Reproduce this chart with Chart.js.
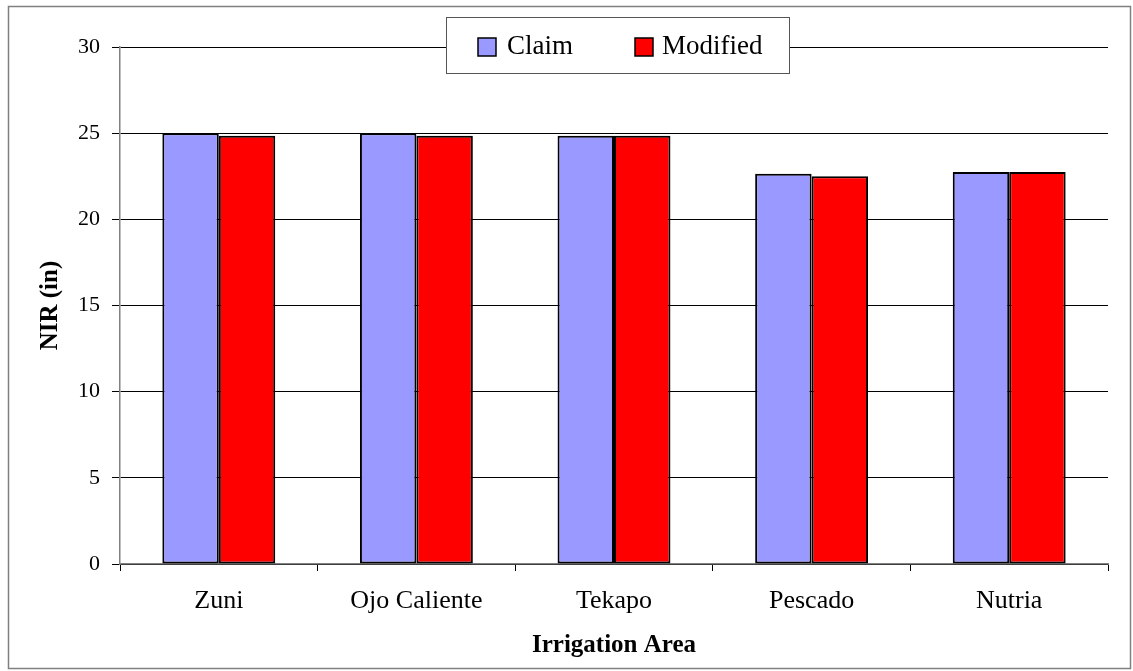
<!DOCTYPE html>
<html>
<head>
<meta charset="utf-8">
<script src="https://cdn.jsdelivr.net/npm/chart.js@4/dist/chart.umd.min.js"></script>
<style>
  html, body { margin: 0; padding: 0; background: #fff; }
  #wrap { width: 1133px; height: 671px; }
</style>
</head>
<body>
<div id="wrap"><canvas id="nir-chart"></canvas></div>
<script>
const areas = ['Zuni', 'Ojo Caliente', 'Tekapo', 'Pescado', 'Nutria'];
const claimNIR = [25.0, 25.0, 24.85, 22.65, 22.75];
const modifiedNIR = [24.85, 24.85, 24.85, 22.5, 22.75];
const yTicks = [0, 5, 10, 15, 20, 25, 30];

const SERIF = '"Times New Roman", "Liberation Serif", serif';

// frame around the whole chart + boxed legend sitting over the top gridline
const framePlugin = {
  id: 'frame',
  afterDraw(chart) {
    const ctx = chart.ctx;
    ctx.save();
    ctx.strokeStyle = '#808080';
    ctx.lineWidth = 1.5;
    ctx.strokeRect(8.5, 6.5, 1122, 662);

    const box = { x: 446, y: 17, w: 343, h: 56 };
    ctx.fillStyle = '#fff';
    ctx.fillRect(box.x, box.y, box.w, box.h);
    ctx.strokeStyle = '#555';
    ctx.lineWidth = 1;
    ctx.strokeRect(box.x + 0.5, box.y + 0.5, box.w, box.h);

    const items = [
      { x: 478, textX: 507 },
      { x: 635, textX: 662 }
    ];
    ctx.font = '27px ' + SERIF;
    ctx.textBaseline = 'middle';
    ctx.textAlign = 'left';
    chart.data.datasets.forEach((ds, i) => {
      const it = items[i];
      ctx.fillStyle = ds.backgroundColor;
      ctx.fillRect(it.x, 38, 18, 18);
      ctx.strokeStyle = '#000';
      ctx.lineWidth = 1.5;
      ctx.strokeRect(it.x, 38, 18, 18);
      ctx.fillStyle = '#000';
      ctx.fillText(ds.label, it.textX, 47);
    });
    ctx.restore();
  }
};

new Chart(document.getElementById('nir-chart'), {
  type: 'bar',
  data: {
    labels: areas,
    datasets: [
      {
        label: 'Claim',
        data: claimNIR,
        backgroundColor: '#9999FF',
        borderColor: '#000',
        borderWidth: 2,
        borderSkipped: false
      },
      {
        label: 'Modified',
        data: modifiedNIR,
        backgroundColor: '#FF0000',
        borderColor: '#000',
        borderWidth: 2,
        borderSkipped: false
      }
    ]
  },
  options: {
    responsive: true,
    maintainAspectRatio: false,
    animation: false,
    layout: {
      padding: { left: 0, top: 47, right: 25, bottom: 0 }
    },
    datasets: {
      bar: {
        categoryPercentage: 1 / 1.75,
        barPercentage: 1.0
      }
    },
    plugins: {
      legend: { display: false },
      tooltip: { enabled: false }
    },
    scales: {
      x: {
        afterFit(scale) { scale.height = 107; },
        grid: {
          display: true,
          drawOnChartArea: false,
          offset: true,
          tickLength: 7,
          color: '#000',
          lineWidth: 1
        },
        border: { color: '#808080', width: 1.5 },
        ticks: {
          color: '#000',
          padding: 15,
          maxRotation: 0,
          font: { family: SERIF, size: 26 }
        },
        title: {
          display: true,
          text: 'Irrigation Area',
          color: '#000',
          padding: { top: 0, bottom: 10 },
          font: { family: SERIF, size: 25, weight: 'bold' }
        }
      },
      y: {
        min: 0,
        max: 30,
        afterFit(scale) { scale.width = 120; },
        afterBuildTicks(scale) {
          scale.ticks = yTicks.map(v => ({ value: v }));
        },
        grid: {
          color: '#000',
          lineWidth: 1,
          tickLength: 8
        },
        border: { color: '#808080', width: 1.5 },
        ticks: {
          color: '#000',
          padding: 12,
          font: { family: SERIF, size: 22 }
        },
        title: {
          display: true,
          text: 'NIR (in)',
          color: '#000',
          padding: { top: 36, bottom: 0 },
          font: { family: SERIF, size: 25, weight: 'bold' }
        }
      }
    }
  },
  plugins: [framePlugin]
});
</script>
</body>
</html>
